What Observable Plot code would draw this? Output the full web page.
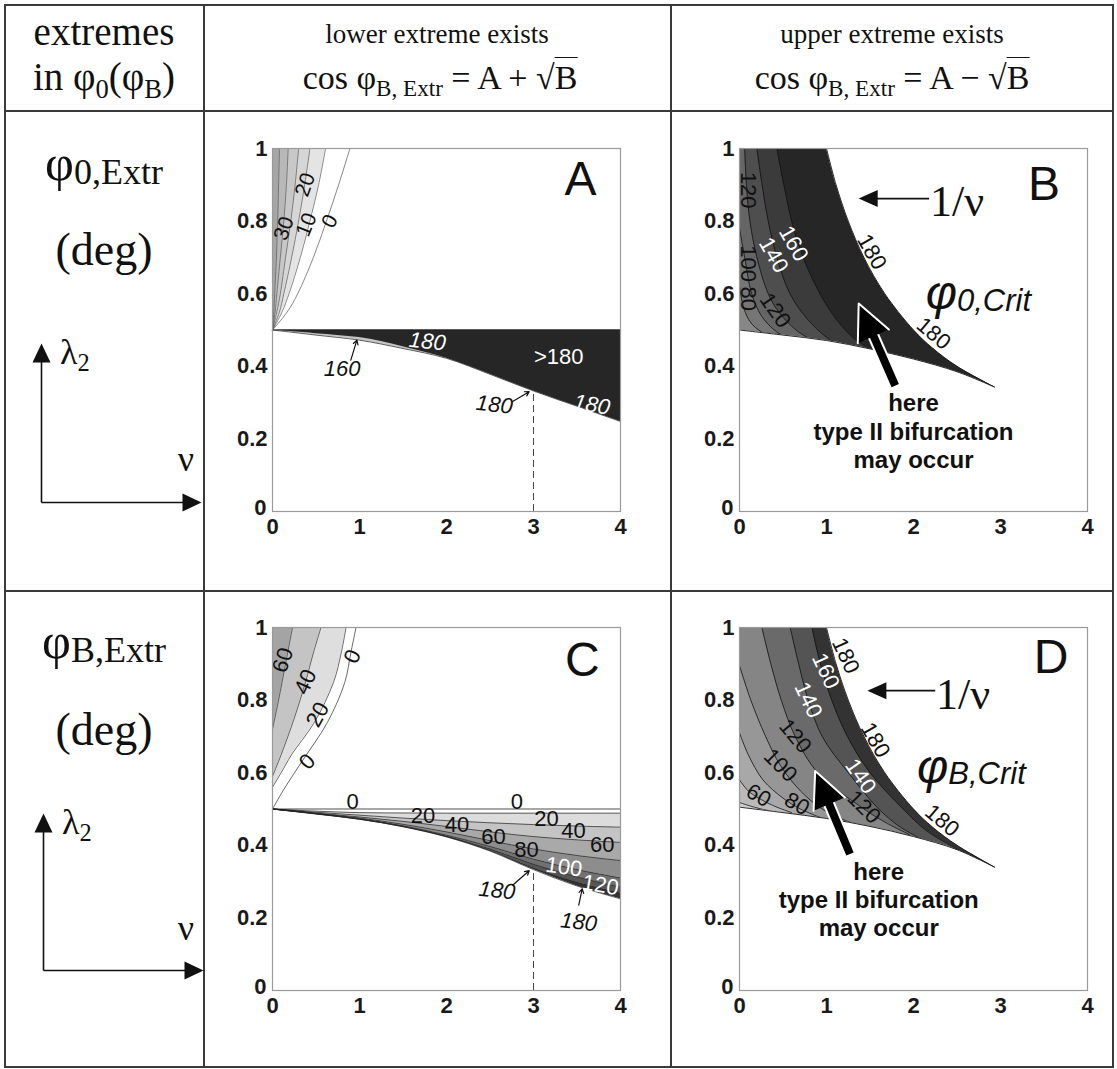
<!DOCTYPE html>
<html><head><meta charset="utf-8">
<script src="https://cdn.jsdelivr.net/npm/d3@7"></script>
<script src="https://cdn.jsdelivr.net/npm/@observablehq/plot@0.6"></script>
<style>
body{margin:0;background:#fff;}
#fig{position:relative;width:1117px;height:1069px;background:#fff;overflow:hidden;}
.ln{position:absolute;background:#3a3a3a;}
.tx{position:absolute;white-space:nowrap;line-height:1;font-family:'Liberation Serif','Times New Roman',serif;color:#111;}
.sb{font-size:0.68em;position:relative;top:0.28em;}
</style></head>
<body><div id="fig"></div>
<script>
// ---------------- data ----------------
const nuTicks = [0, 1, 2, 3, 4];
const lamTicks = [0.2, 0.4, 0.6, 0.8, 1];
const zeroTick = [0];

// Panel A: upper fan (nu read at lambda levels)
const aFanLam = [0.5, 0.55, 0.6, 0.7, 0.8, 0.9, 1.0];
const aFan0  = [0, 0.17, 0.29, 0.47, 0.62, 0.76, 0.89];
const aFan10 = [0, 0.11, 0.19, 0.32, 0.43, 0.53, 0.61];
const aFan20 = [0, 0.08, 0.13, 0.22, 0.30, 0.37, 0.43];
const aFan30 = [0, 0.05, 0.09, 0.15, 0.21, 0.26, 0.30];
const aFan40 = [0, 0.03, 0.05, 0.09, 0.13, 0.16, 0.18];
const aFan50 = [0, 0.015, 0.025, 0.045, 0.06, 0.07, 0.08];
// Panel A: lower region (lambda read at nu)
const lowNu = [0, 0.5, 1, 1.5, 2, 2.5, 3, 3.5, 4];
const aLow160 = [0.5, 0.486, 0.472, 0.449, 0.422, 0.378, 0.332, 0.29, 0.248];
const aLow180 = [0.5, 0.490, 0.479, 0.454, 0.422, 0.378, 0.332, 0.29, 0.248];

// Panels B and D: 1/nu boundary (read)
const uLam = [1.0, 0.9, 0.8, 0.7, 0.6, 0.5, 0.45, 0.4, 0.343];
const uNu  = [1.0, 1.11, 1.25, 1.43, 1.67, 2.0, 2.22, 2.5, 2.93];
// Panel B lower boundary
const bLowNu  = [0, 0.5, 1, 1.5, 2, 2.5, 2.93];
const bLowLam = [0.5, 0.486, 0.471, 0.448, 0.42, 0.385, 0.343];
// Panel B contours
const bC160Lam = [1, 0.9, 0.8, 0.735, 0.65, 0.55, 0.48, 0.44];
const bC160Nu  = [0.43, 0.51, 0.6, 0.68, 0.82, 1.05, 1.3, 1.55];
const bC140Lam = [1, 0.9, 0.8, 0.7, 0.6, 0.53, 0.48, 0.45];
const bC140Nu  = [0.2, 0.26, 0.33, 0.43, 0.58, 0.78, 1.0, 1.2];
const bC120Lam = [1, 0.9, 0.8, 0.7, 0.6, 0.55, 0.5, 0.47];
const bC120Nu  = [0.06, 0.08, 0.12, 0.2, 0.33, 0.45, 0.65, 0.85];
const bC100Lam = [0.78, 0.7, 0.6, 0.54, 0.5, 0.47];
const bC100Nu  = [0, 0.06, 0.14, 0.25, 0.4, 0.6];
const bC80Lam  = [0.62, 0.56, 0.52, 0.495, 0.47];
const bC80Nu   = [0, 0.05, 0.13, 0.25, 0.45];

// Panel C: upper fan
const cOutLam = [0.5, 0.55, 0.628, 0.738, 0.848, 0.93, 1.0];
const cOutNu  = [0, 0.12, 0.33, 0.63, 0.83, 0.9, 0.96];
const cInLam  = [0.56, 0.6, 0.65, 0.738, 0.848, 0.93, 1.0];
const cInNu   = [0, 0.1, 0.22, 0.48, 0.7, 0.79, 0.845];
const cC40Lam = [0.59, 0.65, 0.75, 0.85, 0.93, 1.0];
const cC40Nu  = [0, 0.1, 0.25, 0.38, 0.47, 0.557];
const cC60Lam = [0.72, 0.8, 0.9, 1.0];
const cC60Nu  = [0, 0.07, 0.15, 0.23];
// Panel C: lower wedge (lambda read at lowNu)
const cT1 = [0.5, 0.494, 0.49, 0.489, 0.4885, 0.4885, 0.4885, 0.4885, 0.4885];
const cT2 = [0.5, 0.491, 0.483, 0.475, 0.468, 0.462, 0.457, 0.453, 0.45];
const cT3 = [0.5, 0.489, 0.478, 0.466, 0.452, 0.437, 0.424, 0.415, 0.408];
const cT4 = [0.5, 0.488, 0.475, 0.458, 0.437, 0.413, 0.39, 0.372, 0.358];
const cT5 = [0.5, 0.487, 0.473, 0.454, 0.428, 0.397, 0.362, 0.333, 0.31];
const cT6 = [0.5, 0.487, 0.472, 0.452, 0.425, 0.39, 0.348, 0.313, 0.285];
const cT7 = [0.5, 0.487, 0.472, 0.452, 0.424, 0.386, 0.337, 0.298, 0.268];
const cLow = [0.5, 0.486, 0.472, 0.451, 0.423, 0.384, 0.333, 0.288, 0.2525];

// Panel D
const dULam = [1.0, 0.9, 0.8, 0.7, 0.6, 0.5, 0.45, 0.4, 0.34];
const dLowNu  = [0, 0.5, 1, 1.5, 2, 2.5, 2.93];
const dLowLam = [0.505, 0.49, 0.474, 0.452, 0.424, 0.388, 0.34];
const dC160Lam = [1, 0.9, 0.8, 0.7, 0.6, 0.5, 0.44, 0.39];
const dC160Nu  = [0.833, 0.93, 1.06, 1.24, 1.5, 1.88, 2.15, 2.5];
const dC140Lam = [1, 0.9, 0.8, 0.7, 0.6, 0.5, 0.45, 0.41];
const dC140Nu  = [0.583, 0.68, 0.79, 0.95, 1.25, 1.6, 1.85, 2.15];
const dC120Lam = [1, 0.9, 0.8, 0.7, 0.6, 0.5, 0.46, 0.43];
const dC120Nu  = [0.257, 0.36, 0.48, 0.64, 0.9, 1.43, 1.7, 1.95];
const dC100Lam = [0.895, 0.8, 0.7, 0.62, 0.55, 0.5, 0.46];
const dC100Nu  = [0, 0.13, 0.3, 0.47, 0.7, 0.95, 1.3];
const dC80Lam  = [0.71, 0.65, 0.58, 0.53, 0.5, 0.47];
const dC80Nu   = [0, 0.1, 0.27, 0.5, 0.7, 1.0];
const dC60Lam  = [0.58, 0.55, 0.53, 0.51, 0.49];
const dC60Nu   = [0, 0.1, 0.22, 0.38, 0.6];
const dC40Lam  = [0.518, 0.51, 0.5, 0.49];
const dC40Nu   = [0, 0.1, 0.25, 0.45];

// contour labels: text, nu, lambda, rotation
const aLabBlack = [["30",0.13,0.78,-70],["10",0.39,0.79,-68],["20",0.376,0.90,-70],["0",0.66,0.80,-62]];
const aLabItalic = [["160",0.80,0.394,0],["180",2.55,0.294,6]];
const aLabWhiteIt = [["180",1.78,0.468,6],["180",3.67,0.294,10]];
const aLabWhite = [[">180",3.29,0.427,0]];
const bLabBlack = [["120",0.10,0.885,90],["100",0.10,0.683,90],["80",0.10,0.586,90],["120",0.41,0.554,55],["180",1.52,0.715,60],["180",2.23,0.49,40]];
const bLabWhite = [["160",0.62,0.738,60],["140",0.39,0.706,60]];
const cLabBlack = [["60",0.12,0.91,-72],["40",0.38,0.85,-66],["20",0.52,0.76,-62],["0",0.92,0.92,-66],["0",0.40,0.63,-48],
  ["0",0.92,0.52,0],["0",2.81,0.52,0],["20",1.73,0.482,0],["40",2.12,0.455,0],["60",2.54,0.422,0],["80",2.92,0.386,0],
  ["20",3.15,0.473,0],["40",3.46,0.44,0],["60",3.79,0.40,0]];
const cLabWhite = [["100",3.35,0.34,8],["120",3.77,0.29,10]];
const cLabItalic = [["180",2.58,0.275,6],["180",3.52,0.188,6]];
const dLabBlack = [["180",1.22,0.922,65],["120",0.64,0.70,50],["100",0.47,0.62,45],["60",0.22,0.537,30],["80",0.66,0.514,30],
  ["120",1.43,0.505,45],["180",1.56,0.69,60],["180",2.33,0.468,40]];
const dLabWhite = [["160",0.99,0.88,65],["140",0.79,0.80,65],["140",1.39,0.59,55]];

// ---------------- helpers ----------------
const fig = document.getElementById("fig");
const pts = (lams, nus) => lams.map((lam, i) => ({lam, nu: nus[i]}));
const ptsN = (nus, lams) => nus.map((nu, i) => ({nu, lam: lams[i]}));
const labs = (arr) => arr.map(([t, nu, lam, r]) => ({t, nu, lam, r}));
const CURVE = "catmull-rom";
const SANS = "Liberation Sans, Arial, sans-serif";
const leftFill = (rows, fill) => Plot.areaX(rows, {y: "lam", x1: 0, x2: "nu", fill, curve: CURVE});
const cline = (rows, stroke = "#1a1a1a", w = 0.8) => Plot.line(rows, {x: "nu", y: "lam", stroke, strokeWidth: w, curve: CURVE});
const band = (lo, hi, fill) => Plot.areaY(lowNu.map((nu, i) => ({nu, lo: lo[i], hi: hi[i]})), {x: "nu", y1: "lo", y2: "hi", fill, curve: CURVE});
const txt = (arr, opts) => Plot.text(labs(arr), {x: "nu", y: "lam", text: "t", rotate: "r", fontSize: 22, fontFamily: SANS, ...opts});
const TICK = {fontSize: 22, fontWeight: "bold", fill: "#1a1a1a"};

function panel(marks) {
  return Plot.plot({
    width: 420, height: 420, marginLeft: 50, marginRight: 22, marginTop: 18, marginBottom: 39,
    x: {domain: [0, 4], axis: null},
    y: {domain: [0, 1], axis: null},
    style: {fontFamily: SANS, color: "#000", background: "transparent", overflow: "visible"},
    marks: [
      ...marks,
      Plot.frame({stroke: "#9a9a9a", strokeWidth: 1.2}),
      Plot.axisX(nuTicks, {tickSize: 0, tickPadding: 7, tickFormat: d => String(d), label: null, ...TICK}),
      Plot.axisY(lamTicks, {tickSize: 0, tickPadding: 5, tickFormat: d => String(d), label: null, ...TICK}),
      Plot.text(zeroTick, {x: 0, y: 0, text: d => String(d), dx: -6, dy: -4, textAnchor: "end", ...TICK})
    ]
  });
}
function place(node, left, top) {
  node.style.position = "absolute"; node.style.left = left + "px"; node.style.top = top + "px";
  fig.appendChild(node);
}
function htxt(html, x, base, size, anchor = "middle", extra = "") {
  const d = document.createElement("div");
  d.className = "tx"; d.innerHTML = html;
  const tr = anchor === "middle" ? "translateX(-50%)" : "";
  d.style.cssText += `left:${x}px;top:${base - 0.84 * size}px;font-size:${size}px;transform:${tr};${extra}`;
  fig.appendChild(d);
}
function spikeHead(data, len, r, opts = {}) {
  return Plot.vector(data, {x: "nu", y: "lam", rotate: "rot", length: len, shape: "spike", r, anchor: "end", fill: "#111", stroke: "none", ...opts});
}

// ---------------- table lines ----------------
[[4, 4, 1110, 2], [4, 110, 1110, 2], [4, 590, 1110, 2], [4, 1066, 1110, 2],
 [4, 4, 2, 1064], [203, 4, 2, 1064], [670, 4, 2, 1064], [1112, 4, 2, 1064]].forEach(([x, y, w, h]) => {
  const d = document.createElement("div"); d.className = "ln";
  d.style.cssText += `left:${x}px;top:${y}px;width:${w}px;height:${h}px`; fig.appendChild(d);
});

// ---------------- header ----------------
htxt("extremes", 104, 45, 39);
htxt("in φ<span class='sb'>0</span>(φ<span class='sb'>B</span>)", 104, 90, 39);
htxt("lower extreme exists", 437, 44, 27);
htxt("cos φ<span class='sb'>B, Extr</span> = A + √<span style='border-top:1.5px solid #111;padding-top:1px'>B</span>", 440, 90, 34);
htxt("upper extreme exists", 892, 44, 27);
htxt("cos φ<span class='sb'>B, Extr</span> = A − √<span style='border-top:1.5px solid #111;padding-top:1px'>B</span>", 892, 90, 34);

// left column
htxt("φ<span class='sb' style='font-size:0.72em;top:0.12em'>0,Extr</span>", 104, 180, 50);
htxt("(deg)", 104, 266, 46);
htxt("λ<span class='sb'>2</span>", 60, 364, 36, "left");
htxt("ν", 186, 471, 36);
htxt("φ<span class='sb' style='font-size:0.72em;top:0.12em'>B,Extr</span>", 104, 658, 50);
htxt("(deg)", 104, 746, 46);
htxt("λ<span class='sb'>2</span>", 62, 834, 36, "left");
htxt("ν", 186, 940, 36);

function axisArrows(h) {
  return Plot.plot({
    width: 180, height: h, marginLeft: 10, marginRight: 10, marginTop: 10, marginBottom: 10,
    x: {domain: [0, 1], axis: null}, y: {domain: [0, 1], axis: null},
    style: {background: "transparent", overflow: "visible"},
    marks: [
      Plot.link([{x1: 0, y1: 0, x2: 0, y2: 0.9}, {x1: 0, y1: 0, x2: 0.9, y2: 0}], {x1: "x1", y1: "y1", x2: "x2", y2: "y2", stroke: "#111", strokeWidth: 1.6}),
      Plot.vector([{x: 0, y: 1, rot: 0}, {x: 1, y: 0, rot: 90}], {x: "x", y: "y", rotate: "rot", length: 19, shape: "spike", r: 9, anchor: "end", fill: "#111", stroke: "none"})
    ]
  });
}
place(axisArrows(179), 31, 333);
place(axisArrows(177), 33, 803);

const bifText = ["here\ntype II bifurcation\nmay occur"];

// ---------------- Panel A ----------------
const A = panel([
  leftFill(pts(aFanLam, aFan10), "#e4e4e4"),
  leftFill(pts(aFanLam, aFan20), "#d6d6d6"),
  leftFill(pts(aFanLam, aFan30), "#c8c8c8"),
  leftFill(pts(aFanLam, aFan40), "#b8b8b8"),
  leftFill(pts(aFanLam, aFan50), "#a6a6a6"),
  ...[aFan0, aFan10, aFan20, aFan30, aFan40, aFan50].map(a => cline(pts(aFanLam, a), "#555", 0.7)),
  Plot.areaY(ptsN(lowNu, aLow160), {x: "nu", y1: "lam", y2: 0.5, fill: "#c4c4c4", curve: CURVE}),
  Plot.areaY(ptsN(lowNu, aLow180), {x: "nu", y1: "lam", y2: 0.5, fill: "#262626", curve: CURVE}),
  cline(ptsN(lowNu, aLow160), "#333", 0.8),
  Plot.ruleY([0.5], {x1: 0, x2: 4, stroke: "#222", strokeWidth: 0.8}),
  Plot.ruleX([3], {y1: 0, y2: 0.332, stroke: "#333", strokeWidth: 0.9, strokeDasharray: "7,4"}),
  txt(aLabBlack, {fill: "#111", fontSize: 21}),
  txt(aLabItalic, {fill: "#111", fontStyle: "italic"}),
  txt(aLabWhiteIt, {fill: "#fff", fontStyle: "italic"}),
  txt(aLabWhite, {fill: "#fff"}),
  Plot.arrow([{x1: 0.9, y1: 0.417, x2: 0.97, y2: 0.472}, {x1: 2.76, y1: 0.303, x2: 2.95, y2: 0.33}], {x1: "x1", y1: "y1", x2: "x2", y2: "y2", stroke: "#111", strokeWidth: 1.2, headLength: 6}),
  Plot.text(["A"], {x: 3.54, y: 0.915, fontSize: 48, fontFamily: SANS, fill: "#111"})
]);
place(A, 222, 130);

// ---------------- Panel B ----------------
const B = panel([
  leftFill(pts(uLam, uNu), "#262626"),
  leftFill(pts(bC160Lam, bC160Nu), "#3b3b3b"),
  leftFill(pts(bC140Lam, bC140Nu), "#4e4e4e"),
  leftFill(pts(bC120Lam, bC120Nu), "#656565"),
  leftFill(pts(bC100Lam, bC100Nu), "#767676"),
  leftFill(pts(bC80Lam, bC80Nu), "#878787"),
  ...[[bC160Lam, bC160Nu], [bC140Lam, bC140Nu], [bC120Lam, bC120Nu], [bC100Lam, bC100Nu], [bC80Lam, bC80Nu]].map(([l, n]) => cline(pts(l, n), "#111", 0.8)),
  Plot.areaY(ptsN(bLowNu, bLowLam), {x: "nu", y1: 0, y2: "lam", fill: "#fff", curve: CURVE}),
  cline(ptsN(bLowNu, bLowLam), "#111", 0.9),
  cline(pts(uLam, uNu), "#111", 0.9),
  txt(bLabBlack, {fill: "#111"}),
  txt(bLabWhite, {fill: "#fff"}),
  Plot.link([{x1: 1.45, x2: 2.18, y: 0.862}], {x1: "x1", x2: "x2", y1: "y", y2: "y", stroke: "#111", strokeWidth: 1.6}),
  spikeHead([{nu: 1.37, lam: 0.862, rot: -90}], 19, 8.5),
  Plot.text(["1/ν"], {x: 2.19, y: 0.852, textAnchor: "start", fontSize: 44, fontFamily: "Liberation Serif, serif", fill: "#111"}),
  Plot.text(["φ"], {x: 2.5, y: 0.60, textAnchor: "end", fontSize: 48, fontStyle: "italic", fontFamily: SANS, fill: "#111"}),
  Plot.text(["0,Crit"], {x: 2.5, y: 0.58, textAnchor: "start", fontSize: 31, fontStyle: "italic", fontFamily: SANS, fill: "#111"}),
  Plot.link([{x1: 1.79, y1: 0.347, x2: 1.51, y2: 0.50}], {x1: "x1", y1: "y1", x2: "x2", y2: "y2", stroke: "#fff", strokeWidth: 12}),
  Plot.link([{x1: 1.79, y1: 0.347, x2: 1.51, y2: 0.50}], {x1: "x1", y1: "y1", x2: "x2", y2: "y2", stroke: "#000", strokeWidth: 8}),
  spikeHead([{nu: 1.37, lam: 0.573, rot: -24}], 36, 17, {fill: "#000", stroke: "#fff", strokeWidth: 2}),
  Plot.text(bifText, {x: 2.0, y: 0.223, fontSize: 24, fontWeight: "bold", fontFamily: SANS, fill: "#111", lineHeight: 1.17}),
  Plot.text(["B"], {x: 3.5, y: 0.9, fontSize: 48, fontFamily: SANS, fill: "#111"})
]);
place(B, 689, 130);

// ---------------- Panel C ----------------
const C = panel([
  leftFill(pts(cInLam, cInNu), "#dedede"),
  leftFill(pts(cC40Lam, cC40Nu), "#c4c4c4"),
  leftFill(pts(cC60Lam, cC60Nu), "#a4a4a4"),
  ...[[cOutLam, cOutNu], [cInLam, cInNu], [cC40Lam, cC40Nu], [cC60Lam, cC60Nu]].map(([l, n]) => cline(pts(l, n), "#444", 0.8)),
  band(cT1, cT2, "#dcdcdc"),
  band(cT2, cT3, "#c4c4c4"),
  band(cT3, cT4, "#a9a9a9"),
  band(cT4, cT5, "#8d8d8d"),
  band(cT5, cT6, "#717171"),
  band(cT6, cT7, "#555"),
  band(cT7, cLow, "#333"),
  ...[cT1, cT2, cT3, cT4, cT5, cT6, cT7, cLow].map(a => cline(ptsN(lowNu, a), "#222", 0.7)),
  Plot.ruleY([0.5], {x1: 0, x2: 4, stroke: "#222", strokeWidth: 0.8}),
  Plot.ruleX([3], {y1: 0, y2: 0.333, stroke: "#333", strokeWidth: 0.9, strokeDasharray: "7,4"}),
  txt(cLabBlack, {fill: "#111"}),
  txt(cLabWhite, {fill: "#fff"}),
  txt(cLabItalic, {fill: "#111", fontStyle: "italic"}),
  Plot.arrow([{x1: 2.76, y1: 0.29, x2: 2.95, y2: 0.33}, {x1: 3.52, y1: 0.235, x2: 3.56, y2: 0.28}], {x1: "x1", y1: "y1", x2: "x2", y2: "y2", stroke: "#111", strokeWidth: 1.2, headLength: 6}),
  Plot.text(["C"], {x: 3.56, y: 0.909, fontSize: 48, fontFamily: SANS, fill: "#111"})
]);
place(C, 222, 609);

// ---------------- Panel D ----------------
const D = panel([
  leftFill(pts(dULam, uNu), "#333"),
  leftFill(pts(dC160Lam, dC160Nu), "#545454"),
  leftFill(pts(dC140Lam, dC140Nu), "#6a6a6a"),
  leftFill(pts(dC120Lam, dC120Nu), "#858585"),
  leftFill(pts(dC100Lam, dC100Nu), "#979797"),
  leftFill(pts(dC80Lam, dC80Nu), "#a8a8a8"),
  leftFill(pts(dC60Lam, dC60Nu), "#bababa"),
  leftFill(pts(dC40Lam, dC40Nu), "#cdcdcd"),
  ...[[dC160Lam, dC160Nu], [dC140Lam, dC140Nu], [dC120Lam, dC120Nu], [dC100Lam, dC100Nu], [dC80Lam, dC80Nu], [dC60Lam, dC60Nu], [dC40Lam, dC40Nu]].map(([l, n]) => cline(pts(l, n), "#111", 0.8)),
  Plot.areaY(ptsN(dLowNu, dLowLam), {x: "nu", y1: 0, y2: "lam", fill: "#fff", curve: CURVE}),
  cline(ptsN(dLowNu, dLowLam), "#111", 0.9),
  cline(pts(dULam, uNu), "#111", 0.9),
  txt(dLabBlack, {fill: "#111"}),
  txt(dLabWhite, {fill: "#fff"}),
  Plot.link([{x1: 1.55, x2: 2.25, y: 0.826}], {x1: "x1", x2: "x2", y1: "y", y2: "y", stroke: "#111", strokeWidth: 1.6}),
  spikeHead([{nu: 1.47, lam: 0.826, rot: -90}], 19, 8.5),
  Plot.text(["1/ν"], {x: 2.26, y: 0.815, textAnchor: "start", fontSize: 44, fontFamily: "Liberation Serif, serif", fill: "#111"}),
  Plot.text(["φ"], {x: 2.4, y: 0.615, textAnchor: "end", fontSize: 48, fontStyle: "italic", fontFamily: SANS, fill: "#111"}),
  Plot.text(["B,Crit"], {x: 2.4, y: 0.595, textAnchor: "start", fontSize: 31, fontStyle: "italic", fontFamily: SANS, fill: "#111"}),
  Plot.link([{x1: 1.27, y1: 0.376, x2: 1.005, y2: 0.528}], {x1: "x1", y1: "y1", x2: "x2", y2: "y2", stroke: "#fff", strokeWidth: 12}),
  Plot.link([{x1: 1.27, y1: 0.376, x2: 1.005, y2: 0.528}], {x1: "x1", y1: "y1", x2: "x2", y2: "y2", stroke: "#000", strokeWidth: 8}),
  spikeHead([{nu: 0.87, lam: 0.605, rot: -23}], 36, 17, {fill: "#000", stroke: "#fff", strokeWidth: 2}),
  Plot.text(bifText, {x: 1.6, y: 0.252, fontSize: 24, fontWeight: "bold", fontFamily: SANS, fill: "#111", lineHeight: 1.17}),
  Plot.text(["D"], {x: 3.58, y: 0.917, fontSize: 48, fontFamily: SANS, fill: "#111"})
]);
place(D, 689, 609);
</script>
</body></html>
